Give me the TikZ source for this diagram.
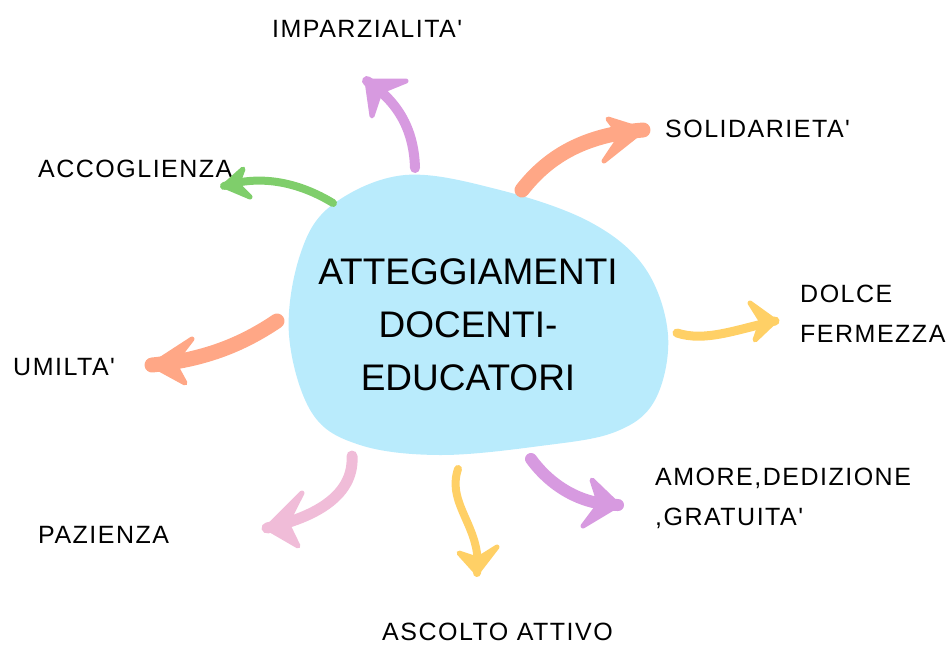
\documentclass[tikz,border=0pt]{standalone}
\usepackage{fontspec}
\usetikzlibrary{calc}
\setmainfont{Liberation Sans}
\newfontfamily\handfont[LetterSpace=6]{Liberation Sans}
\definecolor{blobblue}{RGB}{185,235,252}
\definecolor{arpurple}{RGB}{215,154,224}
\definecolor{arsalmon}{RGB}{255,167,134}
\definecolor{argreen}{RGB}{127,206,107}
\definecolor{aryellow}{RGB}{255,208,102}
\definecolor{arpink}{RGB}{240,188,216}
\tikzset{
  label/.style={inner sep=0pt, anchor=base west, align=left, font=\handfont\fontsize{25}{40}\selectfont},
  brush/.style={line cap=round, line join=round},
  head/.style={line cap=round, line join=round, line width=5pt}
}
\newcommand{\barbhead}[4]{% color, a, tip, b
  \filldraw[head, #1] (#2) -- (#3) -- (#4) -- ($(#3)!0.6!($(#2)!0.5!(#4)$)$) -- cycle;}
\begin{document}
\begin{tikzpicture}[x=1pt,y=-1pt]
\useasboundingbox (0,0) rectangle (949,646);
% central blob
\fill[blobblue] plot[smooth cycle, tension=0.6] coordinates {
 (405,175) (500,190) (590,222) (645,268) (668,335) (655,400) (615,432)
 (540,446) (440,455) (360,445) (312,413) (289,335) (300,255) (332,205)};
\node[inner sep=0pt, anchor=base, align=center, font=\fontsize{37}{53}\selectfont] (center) at (468,390) {ATTEGGIAMENTI\\DOCENTI-\\EDUCATORI};
% labels
\node[label] (imp) at (272,37) {IMPARZIALITA'};
\node[label] (sol) at (665,137) {SOLIDARIETA'};
\node[label] (acc) at (38,177) {ACCOGLIENZA};
\node[label] (umi) at (13,375) {UMILTA'};
\node[label] (dol) at (800,342) {DOLCE\\FERMEZZA};
\node[label] (amo) at (655,525) {AMORE,DEDIZIONE\\,GRATUITA'};
\node[label] (paz) at (38,543) {PAZIENZA};
\node[label] (asc) at (382,640) {ASCOLTO ATTIVO};
% arrow coordinates
\coordinate (imp-s) at (415,168); \coordinate (imp-t) at (367,81);
\coordinate (imp-a) at (372,116); \coordinate (imp-b) at (406,81);
\coordinate (sol-s) at (522,190); \coordinate (sol-t) at (643,130);
\coordinate (sol-a) at (608,119); \coordinate (sol-b) at (604,161);
\coordinate (acc-s) at (333,203); \coordinate (acc-t) at (224,186);
\coordinate (acc-a) at (243,169); \coordinate (acc-b) at (250,197);
\coordinate (umi-s) at (277,321); \coordinate (umi-t) at (152,365);
\coordinate (umi-a) at (192,339); \coordinate (umi-b) at (185,383);
\coordinate (dol-s) at (677,333); \coordinate (dol-t) at (775,321);
\coordinate (dol-a) at (750,303); \coordinate (dol-b) at (755,340);
\coordinate (amo-s) at (531,459); \coordinate (amo-t) at (618,505);
\coordinate (amo-a) at (592,480); \coordinate (amo-b) at (583,526);
\coordinate (asc-s) at (458,469); \coordinate (asc-t) at (477,573);
\coordinate (asc-a) at (459,553); \coordinate (asc-b) at (497,547);
\coordinate (paz-s) at (352,456); \coordinate (paz-t) at (267,528);
\coordinate (paz-a) at (302,493); \coordinate (paz-b) at (298,546);
% arrows
\draw[brush, arpurple, line width=10pt] (imp-s) .. controls (414,132) and (400,103) .. (imp-t);
\barbhead{arpurple}{imp-a}{imp-t}{imp-b}
\draw[brush, arsalmon, line width=15pt] (sol-s) .. controls (547,158) and (582,135) .. (sol-t);
\barbhead{arsalmon}{sol-a}{sol-t}{sol-b}
\draw[brush, argreen, line width=8pt] (acc-s) .. controls (300,183) and (262,174) .. (acc-t);
\barbhead{argreen}{acc-a}{acc-t}{acc-b}
\draw[brush, arsalmon, line width=15pt] (umi-s) .. controls (240,346) and (202,360) .. (umi-t);
\barbhead{arsalmon}{umi-a}{umi-t}{umi-b}
\draw[brush, aryellow, line width=9pt] (dol-s) .. controls (705,342) and (735,330) .. (dol-t);
\barbhead{aryellow}{dol-a}{dol-t}{dol-b}
\draw[brush, arpurple, line width=12pt] (amo-s) .. controls (550,485) and (580,505) .. (amo-t);
\barbhead{arpurple}{amo-a}{amo-t}{amo-b}
\draw[brush, aryellow, line width=8pt] (asc-s) .. controls (446,505) and (483,528) .. (asc-t);
\barbhead{aryellow}{asc-a}{asc-t}{asc-b}
\draw[brush, arpink, line width=11pt] (paz-s) .. controls (354,490) and (325,515) .. (paz-t);
\barbhead{arpink}{paz-a}{paz-t}{paz-b}
\end{tikzpicture}
\end{document}
